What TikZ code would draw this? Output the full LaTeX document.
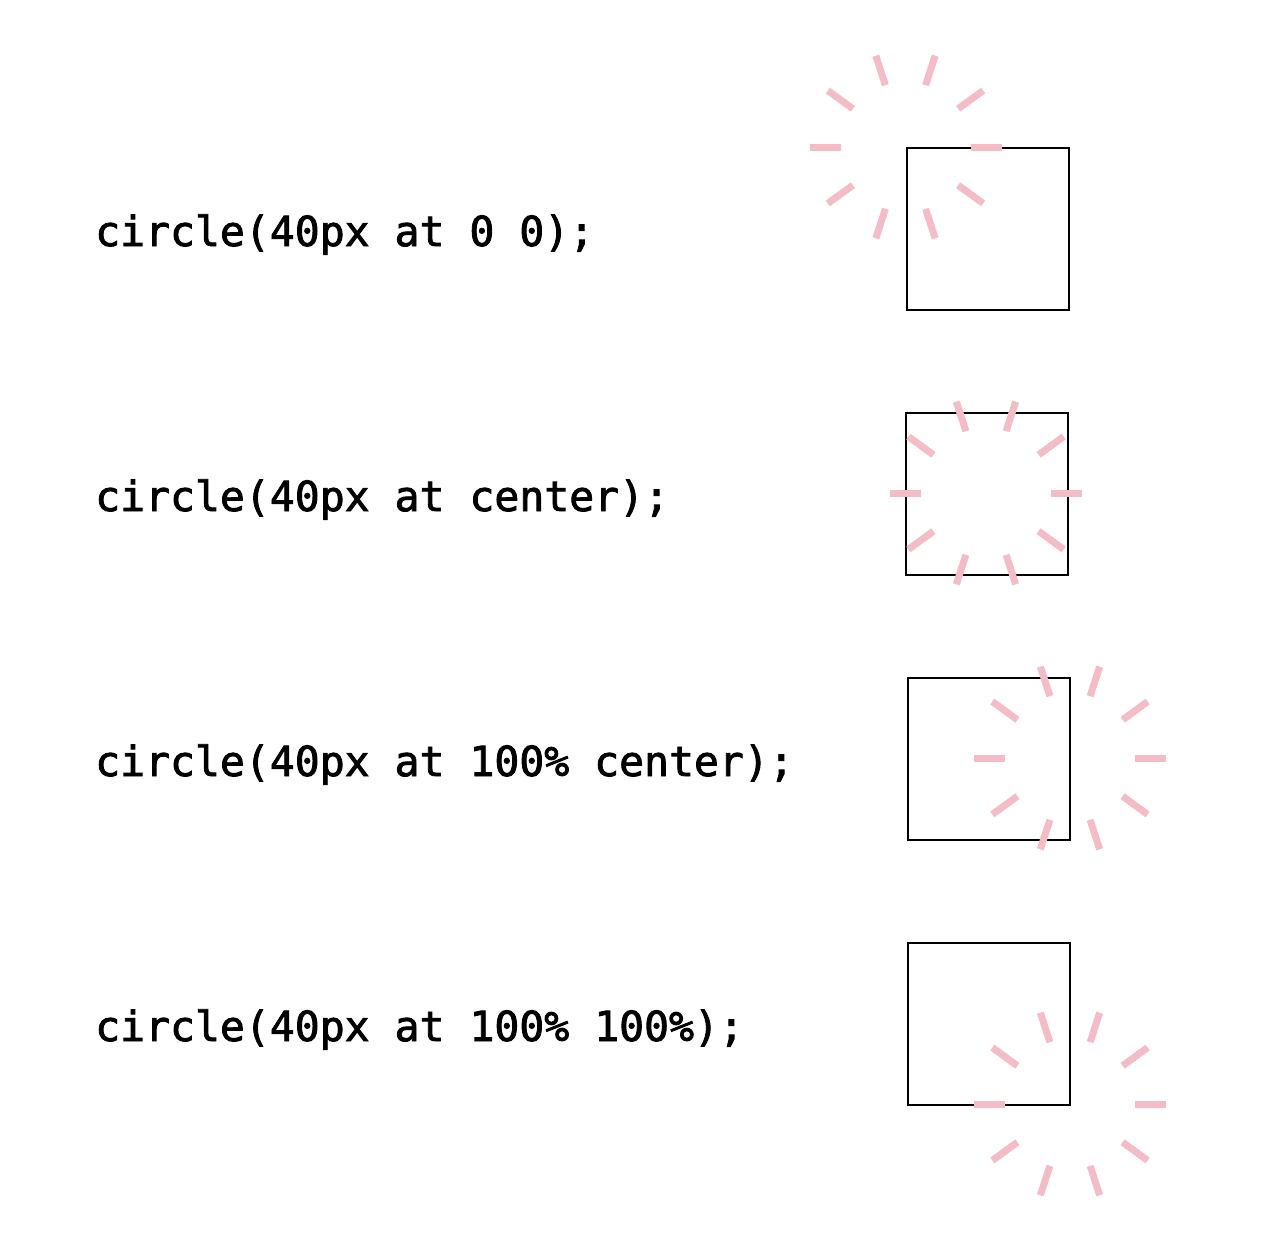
\documentclass[tikz,border=0pt]{standalone}
\usepackage{fontspec}
\setmonofont[UprightFeatures={FakeBold=2}]{DejaVu Sans Mono}
\usetikzlibrary{calc}
\definecolor{dashpink}{HTML}{F4BCC6}
\tikzset{
  code/.style={anchor=base west, inner sep=0pt, font=\ttfamily\fontsize{41.6}{48}\selectfont},
  box/.style={draw=black, line width=2bp, minimum width=162bp, minimum height=162bp, inner sep=0pt, anchor=north west},
  ray/.style={draw=dashpink, line width=7bp, line cap=butt}
}
\begin{document}
\begin{tikzpicture}[x=1bp,y=-1bp]
\useasboundingbox (0,0) rectangle (1288,1252);
% row 1
\node[code] (t1) at (95,246) {circle(40px at 0 0);};
\node[box] (b1) at (906,147) {};
\coordinate (c1) at (905.5,147);
% row 2
\node[code] (t2) at (95,511) {circle(40px at center);};
\node[box] (b2) at (905,412) {};
\coordinate (c2) at (986,493);
% row 3
\node[code] (t3) at (95,776) {circle(40px at 100\% center);};
\node[box] (b3) at (907,677) {};
\coordinate (c3) at (1070,758);
% row 4
\node[code] (t4) at (95,1041) {circle(40px at 100\% 100\%);};
\node[box] (b4) at (907,942) {};
\coordinate (c4) at (1070,1104);
\foreach \c in {c1,c2,c3,c4}{
  \foreach \a in {0,36,...,324}{
    \draw[ray] ($(\c)+(\a:65)$) -- ($(\c)+(\a:96)$);
  }
}
\end{tikzpicture}
\end{document}
